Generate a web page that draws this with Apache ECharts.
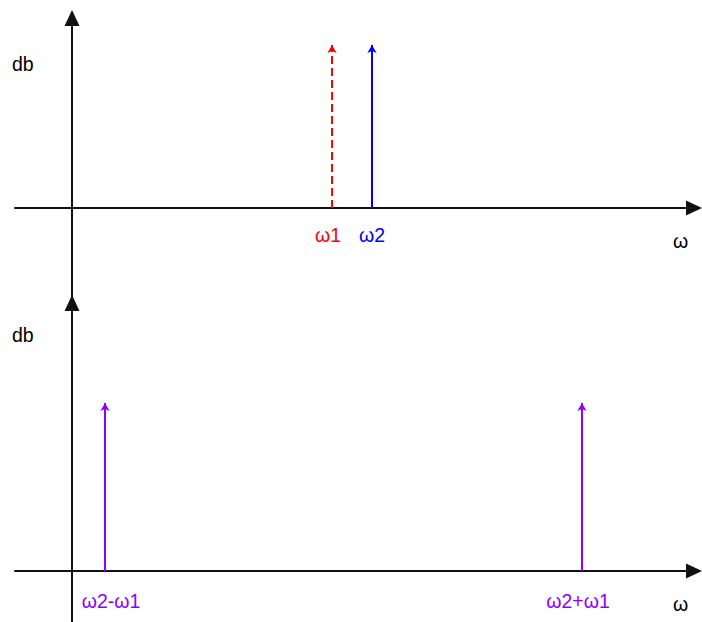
<!DOCTYPE html>
<html>
<head>
<meta charset="utf-8">
<script src="https://cdn.jsdelivr.net/npm/echarts@6/dist/echarts.min.js"></script>
<style>
  html, body { margin: 0; padding: 0; background: #fff; }
  #chart { width: 702px; height: 622px; }
</style>
</head>
<body>
<div id="chart"></div>
<script>
// Input spectrum: two tones
const inputNames = ['ω1', 'ω2'];
const inputFreqs = [260, 300];
const inputLevels = [163, 163];
const inputColors = ['#ff0000', '#0000ff'];
const inputDashes = ['dashed', 'solid'];
const inputLabelShift = [-4, 0];

// Mixer output: difference and sum products
const outputNames = ['ω2-ω1', 'ω2+ω1'];
const outputFreqs = [33, 510];
const outputLevels = [168, 168];
const outputColor = '#8f00ff';
const outputLabelShift = [6, -4];

const FONT = 'Liberation Sans, Arial, sans-serif';
const FS = 19.5;

function spikeData(names, freqs, levels, colors, dashes, shifts) {
  return names.map((n, i) => [
    {
      name: n,
      coord: [freqs[i], 0],
      lineStyle: { color: colors[i], type: dashes[i], width: 2 },
      label: { color: colors[i], offset: [shifts[i], 0] }
    },
    { coord: [freqs[i], levels[i]] }
  ]);
}

function axisPair(gridIndex, xMin, xMax, yMin, yMax) {
  const line = { show: true, onZero: true, symbol: ['none', 'triangle'], symbolSize: [15, 16],
                 lineStyle: { color: '#111', width: 2 } };
  return {
    x: { type: 'value', gridIndex, min: xMin, max: xMax, axisLine: line,
         axisTick: { show: false }, axisLabel: { show: false }, splitLine: { show: false } },
    y: { type: 'value', gridIndex, min: yMin, max: yMax, axisLine: line,
         axisTick: { show: false }, axisLabel: { show: false }, splitLine: { show: false } }
  };
}

const upperAxes = axisPair(0, -57, 622, -97, 190);
const lowerAxes = axisPair(1, -57, 622, -51, 268);

const textFont = FS + 'px ' + FONT;

const chart = echarts.init(document.getElementById('chart'), null, { renderer: 'svg' });
chart.setOption({
  animation: false,
  backgroundColor: '#fff',
  grid: [
    { left: 15, right: 8, top: 18, height: 287 },
    { left: 15, right: 8, top: 303, bottom: 0 }
  ],
  xAxis: [upperAxes.x, lowerAxes.x],
  yAxis: [upperAxes.y, lowerAxes.y],
  graphic: [
    { type: 'text', left: 12, top: 54, style: { text: 'db', font: textFont, fill: '#000' } },
    { type: 'text', left: 12, top: 325, style: { text: 'db', font: textFont, fill: '#000' } },
    { type: 'text', left: 673, top: 231, style: { text: 'ω', font: textFont, fill: '#000' } },
    { type: 'text', left: 673, top: 594, style: { text: 'ω', font: textFont, fill: '#000' } }
  ],
  series: [
    {
      type: 'line', xAxisIndex: 0, yAxisIndex: 0, data: [], silent: true,
      markLine: {
        silent: true, animation: false,
        symbol: ['none', 'arrow'], symbolSize: [7, 8],
        label: { show: true, position: 'start', distance: 17, formatter: '{b}',
                 fontSize: FS, fontFamily: FONT },
        data: spikeData(inputNames, inputFreqs, inputLevels, inputColors, inputDashes, inputLabelShift)
      }
    },
    {
      type: 'line', xAxisIndex: 1, yAxisIndex: 1, data: [], silent: true,
      markLine: {
        silent: true, animation: false,
        symbol: ['none', 'arrow'], symbolSize: [7, 8],
        label: { show: true, position: 'start', distance: 20, formatter: '{b}',
                 fontSize: FS, fontFamily: FONT },
        data: spikeData(outputNames, outputFreqs, outputLevels,
                        [outputColor, outputColor], ['solid', 'solid'], outputLabelShift)
      }
    }
  ]
});
</script>
</body>
</html>
